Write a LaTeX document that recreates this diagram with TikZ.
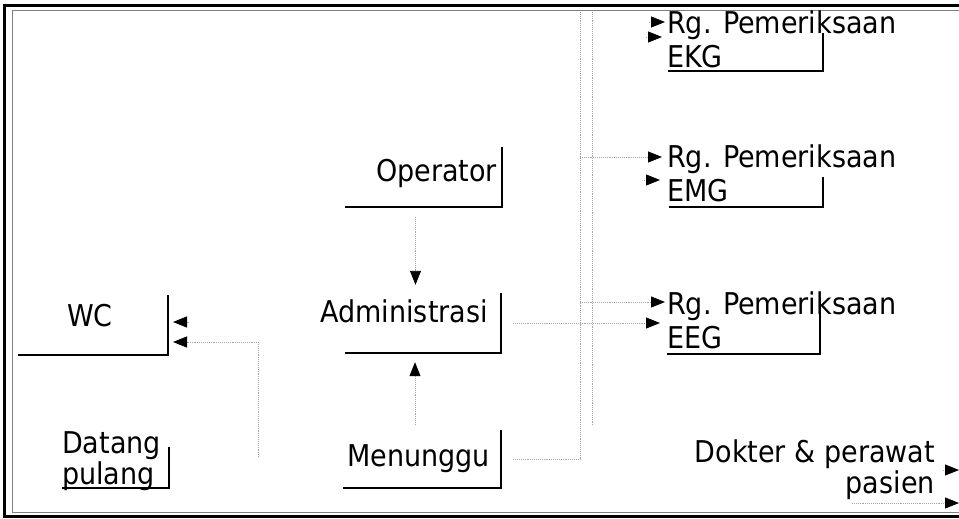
\documentclass[tikz,border=0pt]{standalone}
\usepackage{fontspec}
\setmainfont{DejaVu Sans Condensed}
\usetikzlibrary{arrows.meta,calc}

\begin{document}
\begin{tikzpicture}[x=1pt,y=-1pt,
  txt/.style={inner sep=0pt, font=\fontsize{30}{34}\selectfont},
  room/.style={inner sep=0pt},
  wall/.style={line width=1.8pt},
  link/.style={gray!70, densely dotted, line width=0.9pt},
  flow/.style={link, -{Triangle[length=14pt,width=11pt,black]}}]
\useasboundingbox (0,0) rectangle (959,519);
% frame
\draw[line width=3pt] (959,5.5) -- (4.5,5.5) -- (4.5,516) -- (959,516);
\draw[gray, line width=1pt] (959,10.5) -- (12,10.5) -- (12,512) -- (959,512);

% rooms
\node[room, minimum width=157pt, minimum height=60pt] (opF) at (423.5,177) {};
\node[room, minimum width=156pt, minimum height=60pt] (admF) at (423,323) {};
\node[room, minimum width=158pt, minimum height=58pt] (menF) at (422,459) {};
\node[room, minimum width=150pt, minimum height=60pt] (wcF) at (93,325) {};
\node[room, minimum width=107pt, minimum height=41pt] (datF) at (115.5,467.5) {};
\node[room, minimum width=155pt, minimum height=38pt] (ekgF) at (745.5,52) {};
\node[room, minimum width=154pt, minimum height=30pt] (emgF) at (746,192) {};
\node[room, minimum width=153pt, minimum height=56pt] (eegF) at (743.5,326) {};
\foreach \r in {opF,admF,menF,wcF,datF,ekgF,emgF,eegF}
  \draw[wall] (\r.south west) -| (\r.north east);

% labels
\node[txt, anchor=base east] (op) at (497,181) {Operator};
\node[txt, anchor=base east] (adm) at (488,322) {Administrasi};
\node[txt, anchor=base east] (men) at (490,466) {Menunggu};
\node[txt, anchor=base] (wc) at (90,326) {WC};
\node[txt, anchor=base west, align=left, font=\fontsize{30}{27}\selectfont] (dat) at (62,484) {Datang\\pulang};
\node[txt, anchor=base west, align=left, font=\fontsize{30}{33}\selectfont] (ekg) at (667,67) {Rg. Pemeriksaan\\EKG};
\node[txt, anchor=base west, align=left] (emg) at (667,201) {Rg. Pemeriksaan\\EMG};
\node[txt, anchor=base west, align=left] (eeg) at (667,348) {Rg. Pemeriksaan\\EEG};
\node[txt, anchor=base east, align=right, font=\fontsize{30}{28}\selectfont] (dok) at (935,493) {Dokter \& perawat\\pasien};

% arrow ends
\coordinate (trunkTop) at (580,12);
\coordinate (trunk2Top) at (592,12);
\coordinate (trunk2Bot) at (592,425);
\coordinate (ekgIn1) at (665,22);
\coordinate (ekgIn2) at (662,37);
\coordinate (emgIn1) at (662,157);
\coordinate (emgIn2) at (660,180);
\coordinate (eegIn1) at (665,302);
\coordinate (eegIn2) at (660,323);
\coordinate (wcIn1) at (173,322);
\coordinate (wcIn2) at (173,342);
\coordinate (wcDrop) at (258,457);
\coordinate (dokOut1) at (959,470);
\coordinate (dokOut2) at (959,503);
\coordinate (dokTail) at (852,503);

% flows
\draw[flow, shorten <=10pt, shorten >=8pt] ([xshift=-8pt]opF.south) -- ([xshift=-8pt]opF.south |- admF.north);
\draw[flow, shorten <=5pt, shorten >=9pt] ([xshift=-7pt]menF.north) -- ([xshift=-7pt]menF.north |- admF.south);
\draw[link, shorten <=12pt] (menF.east) -| (trunkTop);
\draw[link] (trunk2Top) -- (trunk2Bot);
\draw[flow, shorten <=12pt] (admF.east) -- (eegIn2);
\draw[flow] (eegIn1 -| trunkTop) -- (eegIn1);
\draw[flow] (emgIn1 -| trunkTop) -- (emgIn1);
\draw[flow] ([xshift=-16pt]emgIn2) -- (emgIn2);
\draw[flow] ([xshift=-16pt]ekgIn1) -- (ekgIn1);
\draw[flow] ([xshift=-16pt]ekgIn2) -- (ekgIn2);
\draw[flow] ([xshift=16pt]wcIn1) -- (wcIn1);
\draw[flow] (wcDrop) |- (wcIn2);
\draw[flow] ([xshift=-16pt]dokOut1) -- (dokOut1);
\draw[flow] (dokTail) -- (dokOut2);
\end{tikzpicture}
\end{document}
